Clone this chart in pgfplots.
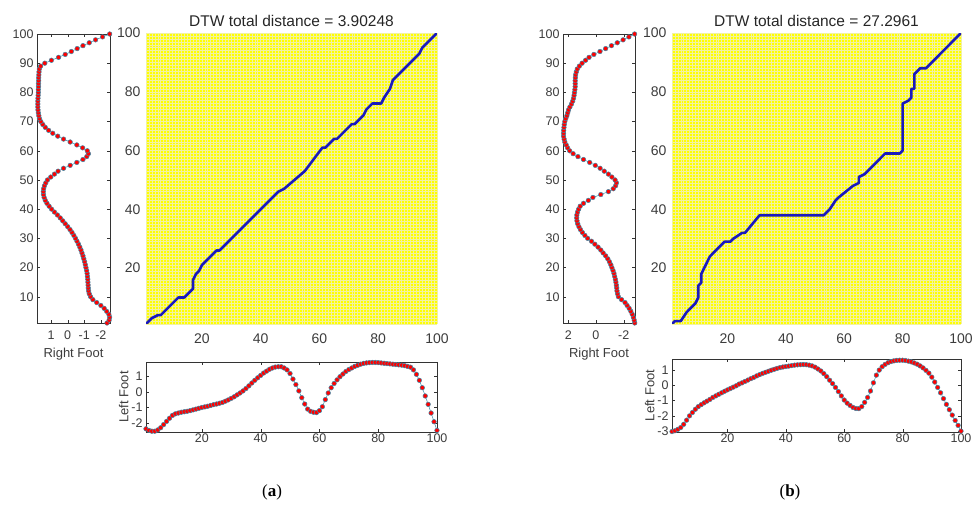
\documentclass[border=0pt]{standalone}
\usepackage{pgfplots}
\usepackage{pgfplotstable}
\pgfplotsset{compat=1.18}
\usepackage{fontspec}
\setmainfont{Liberation Sans}
\newfontfamily\seriffont{Liberation Serif}

\definecolor{pathblue}{RGB}{25,25,190}
\definecolor{linkteal}{RGB}{60,140,170}
\definecolor{meshyellow}{RGB}{255,255,0}
\definecolor{meshline}{RGB}{242,242,160}
\definecolor{ticktext}{RGB}{60,60,60}

% right foot (a): index, value
\pgfplotstableread{
i v
1 -2.37
2 -2.5
3 -2.53
4 -2.48
5 -2.35
6 -2.2
7 -2.0
8 -1.75
9 -1.52
10 -1.38
11 -1.3
12 -1.26
13 -1.24
14 -1.23
15 -1.22
16 -1.21
17 -1.19
18 -1.17
19 -1.14
20 -1.1
21 -1.06
22 -1.02
23 -0.97
24 -0.92
25 -0.86
26 -0.8
27 -0.73
28 -0.65
29 -0.56
30 -0.47
31 -0.37
32 -0.26
33 -0.14
34 0.0
35 0.15
36 0.3
37 0.45
38 0.62
39 0.8
40 0.97
41 1.12
42 1.25
43 1.35
44 1.42
45 1.46
46 1.47
47 1.45
48 1.4
49 1.32
50 1.22
51 1.02
52 0.8
53 0.58
54 0.25
55 -0.15
56 -0.55
57 -0.92
58 -1.15
59 -1.25
60 -1.18
61 -0.9
62 -0.55
63 -0.15
64 0.25
65 0.6
66 0.9
67 1.15
68 1.35
69 1.5
70 1.62
71 1.7
72 1.74
73 1.77
74 1.79
75 1.8
76 1.8
77 1.8
78 1.79
79 1.78
80 1.77
81 1.77
82 1.76
83 1.76
84 1.75
85 1.75
86 1.74
87 1.73
88 1.71
89 1.63
90 1.38
91 0.98
92 0.55
93 0.15
94 -0.22
95 -0.57
96 -0.92
97 -1.3
98 -1.68
99 -2.1
100 -2.53
}\rightA

% left foot (a)
\pgfplotstableread{
i v
1 -2.35
2 -2.45
3 -2.5
4 -2.5
5 -2.42
6 -2.28
7 -2.08
8 -1.88
9 -1.68
10 -1.5
11 -1.4
12 -1.35
13 -1.3
14 -1.27
15 -1.24
16 -1.2
17 -1.15
18 -1.1
19 -1.05
20 -1.0
21 -0.96
22 -0.92
23 -0.87
24 -0.82
25 -0.78
26 -0.73
27 -0.68
28 -0.6
29 -0.52
30 -0.42
31 -0.32
32 -0.2
33 -0.08
34 0.05
35 0.2
36 0.37
37 0.55
38 0.72
39 0.88
40 1.03
41 1.18
42 1.3
43 1.42
44 1.5
45 1.56
46 1.58
47 1.58
48 1.5
49 1.38
50 1.15
51 0.8
52 0.45
53 0.05
54 -0.38
55 -0.78
56 -1.1
57 -1.24
58 -1.3
59 -1.32
60 -1.2
61 -0.95
62 -0.5
63 -0.08
64 0.25
65 0.52
66 0.75
67 0.95
68 1.12
69 1.28
70 1.4
71 1.5
72 1.6
73 1.67
74 1.74
75 1.79
76 1.82
77 1.84
78 1.85
79 1.85
80 1.84
81 1.82
82 1.8
83 1.78
84 1.76
85 1.74
86 1.72
87 1.7
88 1.68
89 1.65
90 1.6
91 1.55
92 1.38
93 1.1
94 0.72
95 0.25
96 -0.27
97 -0.8
98 -1.35
99 -1.9
100 -2.45
}\leftA

% right foot (b)
\pgfplotstableread{
i v
1 -2.8
2 -2.76
3 -2.7
4 -2.62
5 -2.52
6 -2.4
7 -2.25
8 -2.1
9 -1.85
10 -1.62
11 -1.56
12 -1.52
13 -1.5
14 -1.47
15 -1.44
16 -1.4
17 -1.35
18 -1.3
19 -1.23
20 -1.15
21 -1.07
22 -0.97
23 -0.85
24 -0.7
25 -0.52
26 -0.35
27 -0.15
28 0.08
29 0.32
30 0.6
31 0.8
32 0.98
33 1.12
34 1.23
35 1.32
36 1.37
37 1.39
38 1.38
39 1.33
40 1.25
41 1.14
42 0.9
43 0.55
44 0.22
45 -0.35
46 -0.9
47 -1.25
48 -1.42
49 -1.48
50 -1.38
51 -1.15
52 -0.9
53 -0.6
54 -0.3
55 0.05
56 0.45
57 0.9
58 1.3
59 1.65
60 1.9
61 2.05
62 2.15
63 2.25
64 2.3
65 2.34
66 2.34
67 2.33
68 2.31
69 2.29
70 2.25
71 2.18
72 2.1
73 2.04
74 1.98
75 1.88
76 1.77
77 1.68
78 1.62
79 1.58
80 1.55
81 1.52
82 1.5
83 1.5
84 1.5
85 1.49
86 1.47
87 1.42
88 1.35
89 1.2
90 1.0
91 0.75
92 0.5
93 0.15
94 -0.29
95 -0.7
96 -1.12
97 -1.54
98 -1.96
99 -2.38
100 -2.79
}\rightB

% left foot (b)
\pgfplotstableread{
i v
1 -3.02
2 -2.97
3 -2.88
4 -2.76
5 -2.55
6 -2.28
7 -2.0
8 -1.78
9 -1.57
10 -1.4
11 -1.27
12 -1.15
13 -1.04
14 -0.93
15 -0.8
16 -0.7
17 -0.6
18 -0.5
19 -0.4
20 -0.31
21 -0.22
22 -0.13
23 -0.04
24 0.07
25 0.15
26 0.24
27 0.33
28 0.42
29 0.5
30 0.6
31 0.68
32 0.76
33 0.83
34 0.9
35 0.97
36 1.03
37 1.09
38 1.14
39 1.18
40 1.21
41 1.24
42 1.27
43 1.3
44 1.32
45 1.33
46 1.34
47 1.33
48 1.3
49 1.25
50 1.17
51 1.05
52 0.92
53 0.75
54 0.55
55 0.32
56 0.1
57 -0.15
58 -0.42
59 -0.7
60 -0.97
61 -1.17
62 -1.32
63 -1.45
64 -1.52
65 -1.53
66 -1.4
67 -1.12
68 -0.8
69 -0.38
70 0.15
71 0.65
72 0.98
73 1.2
74 1.35
75 1.46
76 1.53
77 1.58
78 1.61
79 1.62
80 1.62
81 1.6
82 1.56
83 1.51
84 1.44
85 1.36
86 1.25
87 1.12
88 0.96
89 0.78
90 0.52
91 0.2
92 -0.15
93 -0.5
94 -0.88
95 -1.25
96 -1.6
97 -1.95
98 -2.3
99 -2.62
100 -2.99
}\leftB

\pgfplotsset{
  dtwbase/.style={
    scale only axis, anchor=south west,
    tick align=inside, major tick length=3pt,
    axis line style={black!80}, tick style={black!80},
    tick label style={font=\fontsize{12.5}{14}\selectfont, text=ticktext},
    /pgf/number format/assume math mode=true,
    label style={font=\fontsize{13}{15}\selectfont, text=ticktext},
  },
  footline/.style={color=linkteal, line width=0.5pt, mark=*, mark size=2.3pt,
    mark options={draw=none, fill=red}},
  meshaxis/.style={
    dtwbase, xmin=1, xmax=100, ymin=1, ymax=100,
    axis background/.style={fill=meshyellow},
    minor xtick={1,...,100}, minor ytick={1,...,100},
    xtick={20,40,...,100}, ytick={20,40,...,100},
    grid=both,
    minor grid style={meshline, line width=0.5pt},
    major grid style={meshline, line width=0.5pt},
    major tick length=0pt, minor tick length=0pt,
    axis line style={draw=none},
    tick label style={font=\fontsize{14}{16}\selectfont, text=ticktext},
    xticklabel style={yshift=-6pt},
    yticklabel style={xshift=-2pt},
    title style={font=\fontsize{15.5}{18}\selectfont, text=black!85, yshift=-3pt},
  },
  pathline/.style={color=pathblue, line width=2.6pt, line join=round},
}

\begin{document}
\begin{tikzpicture}

% ---------------- panel (a) ----------------
\begin{axis}[dtwbase, at={(37pt,188pt)}, width=73pt, height=289pt,
  x dir=reverse, xmin=-2.55, xmax=1.85, ymin=1, ymax=100,
  xtick={-2,-1,0,1}, ytick={10,20,...,100},
  xticklabel style={yshift=-4pt},
  xlabel={Right Foot}, xlabel style={yshift=-2pt}]
\addplot[footline] table[x=v, y=i] {\rightA};
\end{axis}

\begin{axis}[meshaxis, at={(146pt,187pt)}, width=291pt, height=291pt,
  title={DTW total distance = 3.90248}]
\addplot[pathline] coordinates {
(1,1) (3,3) (5,4) (6,4) (9,7) (12,10) (14,10) (15,11) (17,13) (17,16)
(18,18) (19,19) (20,21) (22,23) (24,25) (25,26) (26,26) (35,35) (42,42)
(46,46) (48,47) (55,53) (61,61) (62,61) (64,63) (65,64) (66,64) (71,69)
(72,69) (74,71) (75,72) (76,74) (78,76) (81,76) (82,78) (84,81) (85,84)
(93,92) (94,93) (95,95) (100,100)
};
\end{axis}

\begin{axis}[dtwbase, at={(146pt,79pt)}, width=291pt, height=70pt,
  xmin=1, xmax=100, ymin=-2.55, ymax=1.88,
  xtick={20,40,...,100}, ytick={-2,-1,0,1},
  ylabel={Left Foot}, ylabel style={yshift=-4pt},
  xticklabel style={yshift=2pt}]
\addplot[footline] table[x=i, y=v] {\leftA};
\end{axis}

% ---------------- panel (b) ----------------
\begin{axis}[dtwbase, at={(563pt,188pt)}, width=72pt, height=289pt,
  x dir=reverse, xmin=-2.82, xmax=2.38, ymin=1, ymax=100,
  xtick={-2,0,2}, ytick={10,20,...,100},
  xticklabel style={yshift=-4pt},
  xlabel={Right Foot}, xlabel style={yshift=-2pt}]
\addplot[footline] table[x=v, y=i] {\rightB};
\end{axis}

\begin{axis}[meshaxis, at={(672pt,187pt)}, width=289pt, height=291pt,
  title={DTW total distance = 27.2961}]
\addplot[pathline] coordinates {
(1,1) (2,2) (4,2) (6,5) (9,8) (10,10) (10,14) (11,15) (11,18) (13,22)
(14,24) (16,26) (19,29) (21,29) (22,30) (25,32) (26,32) (31,38) (53,38)
(55,40) (57,43) (58,44) (63,48) (65,49) (65,51) (67,52) (72,57) (74,59)
(79,59) (80,60) (80,76) (82,77) (83,78) (83,81) (84,81) (84,86) (86,88)
(88,88) (99,99) (100,100)
};
\end{axis}

\begin{axis}[dtwbase, at={(672pt,79pt)}, width=289pt, height=73pt,
  xmin=1, xmax=100, ymin=-3.05, ymax=1.7,
  xtick={20,40,...,100}, ytick={-3,-2,-1,0,1},
  ylabel={Left Foot}, ylabel style={yshift=-4pt},
  xticklabel style={yshift=2pt}]
\addplot[footline] table[x=i, y=v] {\leftB};
\end{axis}

\node[font=\seriffont\fontsize{17}{20}\selectfont] at (272pt,19pt) {(\textbf{a})};
\node[font=\seriffont\fontsize{17}{20}\selectfont] at (790pt,19pt) {(\textbf{b})};

\pgfresetboundingbox
\path[use as bounding box] (0,0) rectangle (974pt,511pt);
\end{tikzpicture}
\end{document}
